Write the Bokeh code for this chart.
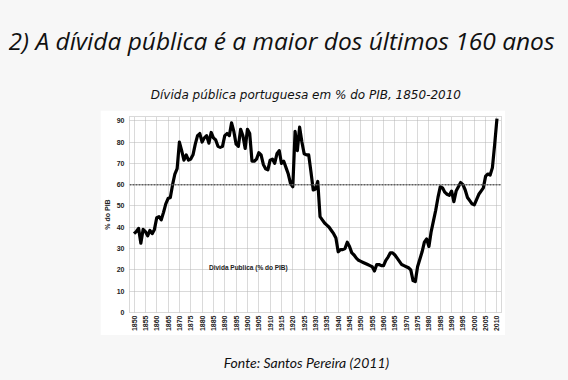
import numpy as np
from bokeh.plotting import figure
from bokeh.layouts import column, row
from bokeh.models import (Span, Legend, LegendItem, FixedTicker, Range1d, Label, Spacer)
from bokeh.embed import file_html
from bokeh.resources import INLINE

# ---- data ----
years = list(range(1850, 2011))
debt = [
    37, 38, 39.5, 32.5, 39, 38, 36, 38.5, 37, 39,            # 1850-1859
    44.5, 45, 43.5, 47, 51, 53.5, 54, 60, 65, 67.5,          # 1860-1869
    80, 76, 71.5, 74, 71.5, 72, 74, 79, 83, 84,              # 1870-1879
    80, 82, 83, 79.5, 84.5, 82, 81, 78, 77.5, 78,            # 1880-1889
    83, 84, 83, 89, 85, 79, 78, 86, 83, 77,                  # 1890-1899
    86, 84, 71, 71, 72, 75, 74, 69.5, 67.5, 67,              # 1900-1909
    71.5, 72, 70, 74.5, 76, 70, 71, 68, 65, 60.5,            # 1910-1919
    59, 85, 76, 87, 80, 74.5, 74, 74, 66, 57.5,              # 1920-1929
    58, 61.5, 45, 43.5, 42, 41, 40, 38.5, 37, 35,            # 1930-1939
    28.5, 29.5, 29.5, 30, 33, 31, 28, 27, 25.5, 24.5,        # 1940-1949
    24, 23.5, 23, 22.5, 22, 21.5, 19.5, 22.5, 22.5, 22,      # 1950-1959
    22, 24.5, 26, 28, 28, 27, 25.5, 24, 22.5, 22,            # 1960-1969
    21.5, 21, 20, 15, 14.5, 21.5, 25, 28.5, 33, 34.5,        # 1970-1979
    31, 38, 43, 48, 54, 59, 58.5, 56.5, 55.5, 55,            # 1980-1989
    57, 52, 57, 59, 61, 60, 57.5, 54, 52.5, 51,              # 1990-1999
    50.5, 53, 55.5, 57, 58.5, 64, 65, 64.5, 68, 79,          # 2000-2009
    91,                                                      # 2010
]
x_ticks = list(range(1850, 2011, 5))
y_ticks = list(range(0, 91, 10))
reference_level = 60
title_text = "2) A dívida pública é a maior dos últimos 160 anos"
subtitle_text = "Dívida pública portuguesa em % do PIB, 1850-2010"
source_text = "Fonte: Santos Pereira (2011)"
legend_text = "Divida Publica (% do PIB)"
y_label = "% do PIB"

PAGE_BG = "#f7f7f7"
TICK_FONT = "Liberation Sans"
TEXT_COLOR = "#111111"


def text_strip(width, height):
    f = figure(width=width, height=height, output_backend="svg", toolbar_location=None,
               x_range=Range1d(0, width), y_range=Range1d(height, 0),
               x_axis_location=None, y_axis_location=None,
               min_border_left=0, min_border_right=0, min_border_top=0, min_border_bottom=0)
    f.grid.visible = False
    f.outline_line_color = None
    f.background_fill_color = PAGE_BG
    f.border_fill_color = PAGE_BG
    return f


# ---- top strip: slide title and chart title ----
top = text_strip(552, 102)
top.add_layout(Label(x=273, y=32, text=title_text, text_font="Open Sans",
                     text_font_style="italic", text_font_size="24.5px", text_color=TEXT_COLOR,
                     text_align="center", text_baseline="alphabetic"))
top.add_layout(Label(x=297.4, y=86, text=subtitle_text, text_font="DejaVu Sans",
                     text_font_style="italic", text_font_size="12px", text_color=TEXT_COLOR,
                     text_align="center", text_baseline="alphabetic"))

# ---- chart ----
p = figure(width=405, height=225, output_backend="svg", toolbar_location=None,
           x_range=Range1d(1848, 2012), y_range=Range1d(0, 92),
           min_border_left=28, min_border_right=4, min_border_top=6,
           min_border_bottom=23)
p.background_fill_color = "white"
p.border_fill_color = "white"
p.outline_line_color = "#b4b4b4"
p.outline_line_dash = "1 1"

p.xaxis.ticker = FixedTicker(ticks=x_ticks)
p.yaxis.ticker = FixedTicker(ticks=y_ticks)
for ax in (p.xaxis[0], p.yaxis[0]):
    ax.axis_line_color = None
    ax.major_tick_line_color = None
    ax.minor_tick_line_color = None
    ax.major_tick_out = 0
    ax.major_tick_in = 0
    ax.minor_tick_out = 0
    ax.major_label_text_font = TICK_FONT
    ax.major_label_text_font_size = "7px"
    ax.major_label_text_font_style = "bold"
    ax.major_label_text_color = "#222222"
p.xaxis.major_label_orientation = np.pi / 2
p.xaxis.major_label_standoff = 3
p.yaxis.major_label_standoff = 5
p.yaxis.axis_label = y_label
p.yaxis.axis_label_text_font = TICK_FONT
p.yaxis.axis_label_text_font_size = "7px"
p.yaxis.axis_label_text_font_style = "bold"
p.yaxis.axis_label_text_color = "#222222"
p.yaxis.axis_label_standoff = 3

p.xgrid.ticker = FixedTicker(ticks=x_ticks)
p.ygrid.ticker = FixedTicker(ticks=y_ticks)
for g in (p.xgrid[0], p.ygrid[0]):
    g.grid_line_color = "#b4b4b4"
    g.grid_line_dash = "1 1"
    g.grid_line_width = 1

# 60% reference line
p.add_layout(Span(location=reference_level, dimension="width", line_color="#606060",
                  line_dash="2 1", line_width=1.5))

# data line
r = p.line(years, debt, line_color="black", line_width=3.2, line_join="round")

# legend (thin proxy line, as in the original)
proxy = p.line(x=[], y=[], line_color="black", line_width=1.2)
legend = Legend(items=[LegendItem(label=legend_text, renderers=[proxy])],
                location=(66, 41), border_line_color=None, background_fill_alpha=0,
                padding=0, margin=0, glyph_width=13, glyph_height=8, label_height=8,
                label_standoff=1, label_text_font=TICK_FONT, label_text_font_size="6.5px",
                label_text_font_style="bold", label_text_color="#222222")
p.add_layout(legend, "center")

# ---- bottom strip: source ----
bottom = text_strip(552, 37)
bottom.add_layout(Label(x=298, y=27, text=source_text, text_font="Lato",
                        text_font_style="italic", text_font_size="14px",
                        text_color=TEXT_COLOR, text_align="center",
                        text_baseline="alphabetic"))

layout = column(top,
                row(Spacer(width=92, height=225, styles={"background": PAGE_BG}), p,
                    Spacer(width=55, height=225, styles={"background": PAGE_BG})),
                bottom)

html = file_html(layout, INLINE)
html = html.replace("<head>", "<head><style>html,body{background:%s !important;} body{margin:8px !important;}</style>" % PAGE_BG, 1)
open("out.html", "w").write(html)
